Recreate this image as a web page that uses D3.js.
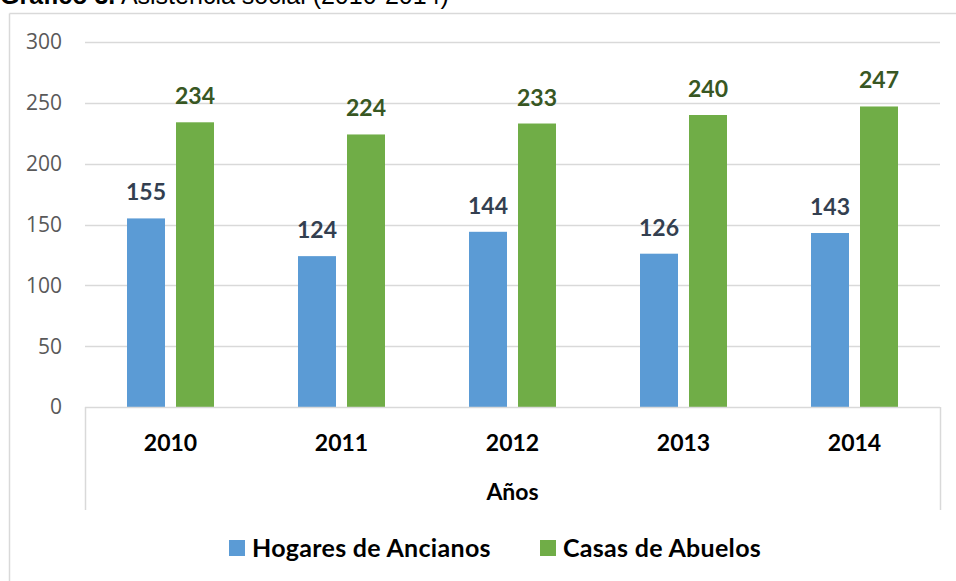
<!DOCTYPE html>
<html>
<head>
<meta charset="utf-8">
<script src="https://cdn.jsdelivr.net/npm/d3@7"></script>
<style>
  body { margin: 0; background: #fff; }
  svg { display: block; }
  .tick-label { font-family: 'Open Sans', sans-serif; font-size: 21px; fill: #595959; }
  .val { font-family: Lato, sans-serif; font-weight: bold; font-size: 23px; }
  .year { font-family: Lato, sans-serif; font-weight: bold; font-size: 23px; fill: #000; }
  .legend { font-family: Lato, sans-serif; font-weight: bold; font-size: 25px; fill: #000; letter-spacing: 0.3px; }
</style>
</head>
<body>
<svg id="chart" width="956" height="581"></svg>
<script>
const years = ['2010', '2011', '2012', '2013', '2014'];
const hogares = [155, 124, 144, 126, 143];
const casas = [234, 224, 233, 240, 247];
const seriesNames = ['Hogares de Ancianos', 'Casas de Abuelos'];
const yTicks = [0, 50, 100, 150, 200, 250, 300];

const svg = d3.select('#chart');
const gridColor = '#d9d9d9';
const colors = ['#5b9bd5', '#70ad47'];
const labelColors = ['#333f50', '#385723'];

const plot = { left: 85, right: 940, top: 42, bottom: 407 };

// outer frame (left and top edges only visible)
svg.append('line')
  .attr('x1', 9.5).attr('x2', 9.5).attr('y1', 13.5).attr('y2', 581)
  .attr('stroke', gridColor).attr('stroke-width', 1.5);
svg.append('line')
  .attr('x1', 9.5).attr('x2', 956).attr('y1', 13.5).attr('y2', 13.5)
  .attr('stroke', gridColor).attr('stroke-width', 1.5);

// title, cut at top edge like the source
const title = svg.append('text')
  .attr('x', 0).attr('y', 4)
  .style('font-family', "'Liberation Sans', Arial, sans-serif")
  .style('font-size', '25px')
  .attr('fill', '#000');
title.append('tspan').attr('font-weight', 'bold').text('Gráfico 3.');
title.append('tspan').text(' Asistencia social (2010-2014)');

const y = d3.scaleLinear().domain([0, 300]).range([plot.bottom, plot.top]);
const x = d3.scaleBand().domain(years).range([plot.left, plot.right]);
const barW = 38;
const inner = d3.scaleBand().domain([0, 1]).range([0, barW * 2 + 11]).paddingInner(11 / 49);

// gridlines
svg.append('g')
  .selectAll('line')
  .data(yTicks.filter((t) => t > 0))
  .join('line')
  .attr('x1', plot.left).attr('x2', plot.right)
  .attr('y1', (d) => Math.round(y(d)) + 0.5)
  .attr('y2', (d) => Math.round(y(d)) + 0.5)
  .attr('stroke', gridColor).attr('stroke-width', 1.5);

// y tick labels
svg.append('g')
  .selectAll('text')
  .data(yTicks)
  .join('text')
  .attr('class', 'tick-label')
  .attr('x', 62)
  .attr('y', (d) => y(d))
  .attr('dy', '0.35em')
  .attr('text-anchor', 'end')
  .text((d) => d);

// bars
const series = [hogares, casas];
series.forEach((vals, s) => {
  const g = svg.append('g');
  g.selectAll('rect')
    .data(years)
    .join('rect')
    .attr('x', (d) => x(d) + x.bandwidth() / 2 - (barW * 2 + 11) / 2 + inner(s))
    .attr('y', (d, i) => y(vals[i]))
    .attr('width', inner.bandwidth())
    .attr('height', (d, i) => y(0) - y(vals[i]))
    .attr('fill', colors[s]);

  g.selectAll('text')
    .data(years)
    .join('text')
    .attr('class', 'val')
    .attr('x', (d) => x(d) + x.bandwidth() / 2 - (barW * 2 + 11) / 2 + inner(s) + inner.bandwidth() / 2)
    .attr('y', (d, i) => y(vals[i]) - 18)
    .attr('text-anchor', 'middle')
    .attr('fill', labelColors[s])
    .text((d, i) => vals[i]);
});

// x axis box
svg.append('line')
  .attr('x1', plot.left).attr('x2', plot.right)
  .attr('y1', plot.bottom + 0.5).attr('y2', plot.bottom + 0.5)
  .attr('stroke', gridColor).attr('stroke-width', 1.5);
[plot.left, plot.right].forEach((xx) => {
  svg.append('line')
    .attr('x1', xx + 0.5).attr('x2', xx + 0.5)
    .attr('y1', plot.bottom).attr('y2', 510)
    .attr('stroke', gridColor).attr('stroke-width', 1.5);
});

svg.append('g')
  .selectAll('text')
  .data(years)
  .join('text')
  .attr('class', 'year')
  .attr('x', (d) => x(d) + x.bandwidth() / 2)
  .attr('y', 451)
  .attr('text-anchor', 'middle')
  .text((d) => d);

svg.append('text')
  .attr('class', 'year')
  .attr('x', (plot.left + plot.right) / 2)
  .attr('y', 500)
  .attr('text-anchor', 'middle')
  .text('Años');

// legend
const legendX = [229, 540];
seriesNames.forEach((name, i) => {
  const g = svg.append('g').attr('transform', `translate(${legendX[i]},540)`);
  g.append('rect').attr('width', 16).attr('height', 16).attr('fill', colors[i]);
  g.append('text').attr('class', 'legend').attr('x', 23).attr('y', 17).text(name);
});
</script>
</body>
</html>
